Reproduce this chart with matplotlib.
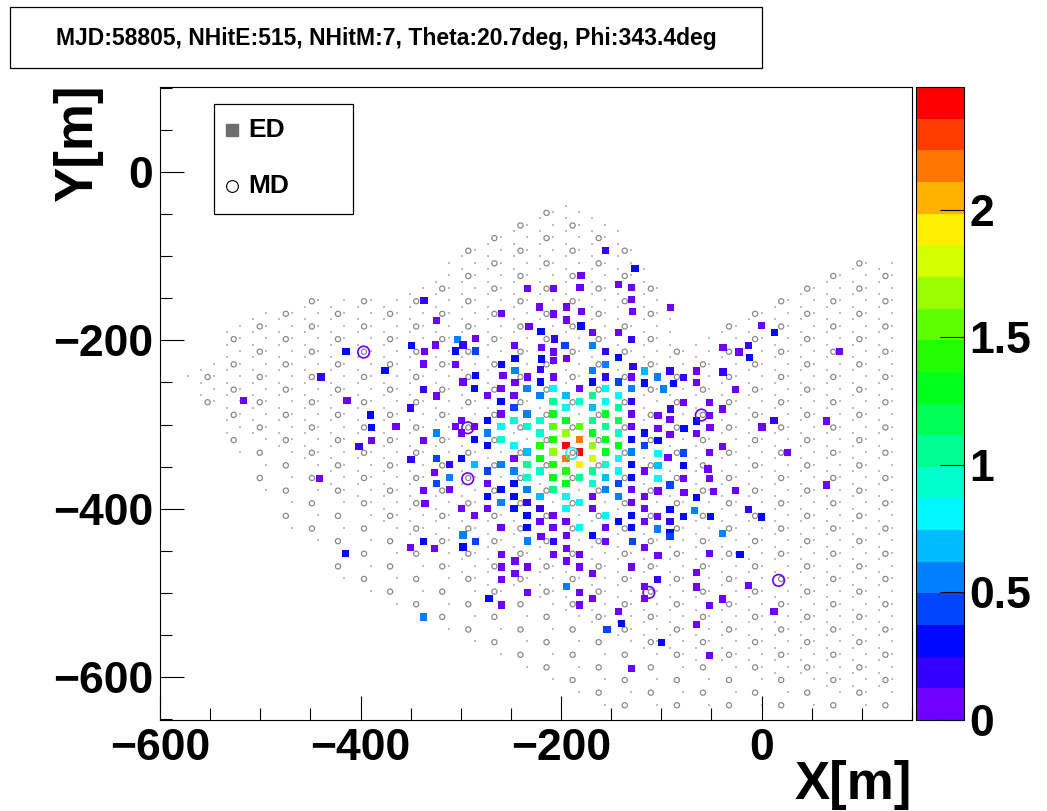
import numpy as np
import matplotlib
matplotlib.use("Agg")
import matplotlib.pyplot as plt
from matplotlib.path import Path
from matplotlib.colors import ListedColormap, BoundaryNorm, hsv_to_rgb
from matplotlib.patches import Rectangle
from matplotlib.cm import ScalarMappable
import matplotlib.ticker as mt

plt.rcParams['font.family'] = ['Liberation Sans', 'DejaVu Sans']
plt.rcParams['font.weight'] = 'bold'

# ---------------- text / ranges ----------------
title_text = "MJD:58805, NHitE:515, NHitM:7, Theta:20.7deg, Phi:343.4deg"
x_label = "X[m]"
y_label = "Y[m]"
x_range = (-600, 150)
y_range = (-651, 101)
x_major = [-600, -400, -200, 0]
y_major = [-600, -400, -200, 0]
z_max = 2.48
n_levels = 20
cbar_ticks = [0, 0.5, 1, 1.5, 2]

# ---------------- array layout ----------------
ed_pitch_x = 13.0
ed_pitch_y = 15.0
ed_y_offset = -2.6
md_pitch_x = 26.0
md_pitch_y = 30.0
md_x_offset = -6.5
md_y_offset = -213.5

outer_x = [-580, -548, -535, -505, -460, -416, -365, -340, -311, -286, -258, -231, -192,
           -160, -130, -108, -90, -80, -58, -48, -26, 20, 72, 100, 135,
           135, -155, -208, -261, -311, -363, -415, -440, -470, -495, -522, -550]
outer_y = [-245, -225, -185, -170, -155, -147, -148, -130, -103, -86, -70, -52, -25,
           -55, -78, -125, -170, -200, -200, -185, -168, -142, -112, -103, -100,
           -640, -640, -610, -580, -550, -519, -487, -447, -430, -384, -339, -277]
dense_x = [-600, -460, -400, -311, -201, -120, 200, 200, -600]
dense_y = [-285, -340, -400, -470, -530, -570, -640, 50, 50]

# ---------------- hit ED detectors (outer part) ----------------
ed_x = [-336.8, -324.4, -325.4, -349.1, -336.4, -337.1, -414.6, -375.7, -439.5,
        -155.5, -126.3, -180.2, -142.9, -129.9, -233.3, -207.4, -181.2, -129.6, -221.3,
        -194.7, -179.5, -207.4, -128.9, -259.2, -194.7, -232.0, -180.2, -220.0, -168.5,
        -142.9, -303.1, -297.8, -285.1, -206.4, -129.6, -246.3, -196.1, -168.8, -305.1,
        -285.1, -219.3, -207.4, -155.5, -219.3, -207.4, -194.7, -246.0, -142.9, -259.2,
        -155.5, -168.8, -305.1, -246.0, -220.3, -128.3, -116.4, -285.1, -257.9, -233.3,
        -207.4, -155.5, -129.6, -297.8, -246.0, -220.3, -168.8, -142.9, -116.4,
        -90.7, -0.3, 12.7, -38.6, -22.6, -13.0, -12.3, 77.5, -91.4, -78.1, -64.8, -38.6,
        -64.8, -87.7, -104.0,
        -517.1, -413.5, -337.0, -324.3, -350.2, -390.1, -388.8, -364.6, -324.3, -337.3,
        -388.8, -401.5, -349.6, -324.3, -326.0, -324.3, -440.7, -337.0, -335.7,
        -98.0, -26.2, -78.1, -52.1, -39.2, -91.0, -103.4, -52.1, -64.8, -91.4, 12.3, 64.8,
        0.3, -51.5, -77.5, -103.4, -64.8, -91.4, -103.4, -39.2, 25.6, -52.1, -78.1, -103.4,
        -93.4, -78.1, -103.4, -53.5, -103.4, -78.1, -52.1, -91.4, 64.8, -103.4, -77.5,
        -47.6, -26.2, -64.8, -91.4, -66.8, -13.0, -104.0, -78.1, -50.8, -0.3, -91.4,
        -104.0, -91.4, -38.9,
        -414.8, -337.0, -350.2, -326.0, -337.0,
        -297.8, -285.1, -297.8, -233.3, -220.0, -207.4, -194.7, -168.8, -155.5, -128.9,
        -116.4, -259.2, -246.0, -207.4, -194.7, -181.5, -259.2, -233.3, -194.7, -181.5,
        -129.6, -246.0, -168.8, -259.2, -194.7, -233.3, -181.5, -116.4, -116.4, -271.9,
        -168.8, -259.2, -181.5, -142.9, -139.6, -154.2, -129.6,
        -91.4, -103.4, -52.1, -21.6, -64.8, -104.0, -64.8, -13.0, -38.9, -52.1, 12.3,
        -64.8, -100.0, -52.1]
ed_y = [-152.9, -176.7, -205.5, -206.4, -213.5, -228.1, -213.0, -236.1, -243.6,
        -93.5, -114.4, -123.2, -133.4, -137.5, -138.2, -138.2, -137.0, -151.7, -160.4,
        -160.4, -165.5, -168.7, -166.0, -168.4, -175.8, -183.3, -183.0, -189.7, -190.9,
        -190.5, -198.8, -205.5, -197.6, -198.4, -198.8, -205.9, -206.4, -206.4, -212.7,
        -212.7, -208.7, -213.9, -213.5, -222.2, -223.7, -221.3, -221.3, -220.6, -228.5,
        -228.5, -235.6, -228.9, -235.6, -234.9, -230.9, -236.4, -242.0, -242.0, -243.6,
        -243.6, -243.6, -243.6, -249.5, -250.3, -249.5, -249.5, -249.5, -250.7,
        -161.2, -182.6, -190.9, -208.3, -213.9, -205.9, -220.2, -213.0, -236.4, -243.9,
        -236.4, -237.6, -250.3, -251.5, -243.6,
        -271.2, -271.2, -258.7, -266.1, -280.4, -288.7, -303.8, -302.1, -310.1, -318.8,
        -318.8, -326.4, -341.8, -340.6, -356.8, -370.3, -363.9, -378.2, -394.1,
        -257.8, -258.7, -273.6, -273.6, -281.6, -281.6, -289.5, -289.5, -295.8, -294.3,
        -295.0, -295.8, -303.0, -303.8, -304.5, -304.5, -310.9, -311.6, -318.8, -325.9,
        -333.0, -333.0, -333.9, -334.7, -339.4, -348.9, -348.9, -352.9, -363.9, -363.9,
        -363.9, -371.9, -371.9, -379.0, -380.6, -379.8, -378.2, -387.0, -401.2, -401.9,
        -401.2, -409.1, -409.1, -409.1, -409.9, -415.5, -424.2, -428.9, -429.7,
        -453.5, -439.2, -446.4, -447.1, -528.7,
        -431.3, -439.2, -445.5, -438.4, -432.8, -439.2, -432.1, -432.1, -439.2, -439.2,
        -446.4, -454.2, -462.2, -454.2, -447.1, -454.2, -469.3, -469.3, -462.2, -469.3,
        -469.3, -477.3, -477.3, -484.4, -492.2, -499.4, -499.4, -492.2, -506.5, -506.5,
        -506.5, -514.5, -514.5, -522.4, -536.7, -543.8, -589.7,
        -432.8, -455.9, -453.5, -454.2, -475.6, -484.4, -493.1, -491.5, -507.3, -515.3,
        -522.4, -537.4, -558.8, -574.7]
ed_q = [0.19, 0.06, 0.06, 0.31, 0.06, 0.06, 0.31, 0.31, 0.19,
        0.19, 0.31, 0.06, 0.06, 0.06, 0.06, 0.06, 0.06, 0.06, 0.06,
        0.06, 0.06, 0.06, 0.06, 0.06, 0.06, 0.06, 0.31, 0.31, 0.06,
        0.06, 0.56, 0.19, 0.06, 0.19, 0.19, 0.06, 0.43, 0.56, 0.31,
        0.43, 0.06, 0.06, 0.19, 0.31, 0.06, 0.06, 0.31, 0.31, 0.31,
        0.56, 0.56, 0.06, 0.56, 0.19, 0.19, 0.68, 0.31, 0.06, 0.06,
        0.06, 0.19, 0.06, 0.06, 0.06, 0.31, 0.31, 0.43, 0.31,
        0.06, 0.06, 0.31, 0.06, 0.06, 0.19, 0.31, 0.06, 0.19, 0.19,
        0.06, 0.19, 0.06, 0.31, 0.56,
        0.06, 0.06, 0.19, 0.06, 0.19, 0.31, 0.31, 0.06, 0.56, 0.06,
        0.06, 0.19, 0.19, 0.43, 0.06, 0.43, 0.06, 0.06, 0.06,
        0.56, 0.06, 0.06, 0.06, 0.06, 0.19, 0.06, 0.06, 0.31, 0.06,
        0.19, 0.06, 0.06, 0.06, 0.31, 0.06, 0.06, 0.06, 0.31, 0.06,
        0.06, 0.06, 0.43, 0.81, 0.06, 0.31, 0.68, 0.06, 0.81, 0.06,
        0.06, 0.43, 0.06, 0.06, 0.06, 0.06, 0.06, 0.31, 0.31, 0.56,
        0.19, 0.06, 0.31, 0.31, 0.31, 0.19, 0.56, 0.31, 0.56,
        0.31, 0.31, 0.06, 0.06, 0.56,
        0.56, 0.43, 0.31, 0.56, 0.06, 0.19, 0.06, 0.31, 0.06, 0.43,
        0.06, 0.06, 0.06, 0.06, 0.06, 0.06, 0.06, 0.06, 0.06, 0.06,
        0.06, 0.06, 0.06, 0.06, 0.56, 0.06, 0.06, 0.06, 0.06, 0.31,
        0.06, 0.06, 0.06, 0.06, 0.31, 0.43, 0.06,
        0.43, 0.06, 0.06, 0.31, 0.06, 0.19, 0.06, 0.06, 0.06, 0.06,
        0.06, 0.06, 0.31, 0.06]

# ---------------- hit ED detectors (shower core region) ----------------
core_x = [-311, -311, -311, -305,
          -299, -299, -299, -299,
          -286, -286, -286, -286, -286,
          -273, -273, -273, -273, -273, -273, -273, -273,
          -260, -260, -260, -260, -260, -260, -260, -260, -260,
          -247, -247, -247, -247, -247, -247, -247, -247, -247,
          -234, -234, -234, -234, -234, -234, -234, -234, -234, -234,
          -221, -221, -221, -221, -221, -221, -221, -221, -221,
          -208, -208, -208, -208, -208, -208, -208, -208, -208, -208, -208,
          -195, -195, -195, -195, -195, -195, -195, -195, -195, -195, -195,
          -182, -182, -182, -182, -182, -182, -182, -182, -182,
          -169, -169, -169, -169, -169, -169, -169, -169, -169, -169,
          -156, -156, -156, -156, -156, -156, -156, -156, -156, -156, -156,
          -143, -143, -143, -143, -143, -143, -143, -143, -143, -143,
          -130, -130, -130, -130, -130, -130, -130, -130, -130, -130, -130, -130,
          -117, -117, -117, -117, -117, -117]
core_y = [-347.6, -362.6, -377.6, -302.6,
          -295.1, -310.1, -340.1, -400.1,
          -257.6, -302.6, -317.6, -347.6, -407.6,
          -265.1, -295.1, -310.1, -325.1, -355.1, -370.1, -385.1, -400.1,
          -257.6, -272.6, -287.6, -302.6, -317.6, -347.6, -377.6, -392.6, -422.6,
          -265.1, -280.1, -295.1, -325.1, -340.1, -355.1, -370.1, -385.1, -400.1,
          -257.6, -287.6, -302.6, -332.6, -347.6, -362.6, -377.6, -392.6, -407.6, -422.6,
          -265.1, -295.1, -310.1, -325.1, -340.1, -355.1, -385.1, -400.1, -415.1,
          -257.6, -272.6, -287.6, -302.6, -317.6, -332.6, -347.6, -362.6, -377.6, -407.6, -422.6,
          -265.1, -280.1, -295.1, -310.1, -325.1, -340.1, -355.1, -370.1, -385.1, -400.1, -415.1,
          -257.6, -272.6, -302.6, -317.6, -332.6, -347.6, -362.6, -392.6, -422.6,
          -265.1, -280.1, -295.1, -310.1, -325.1, -340.1, -355.1, -370.1, -385.1, -400.1,
          -257.6, -272.6, -287.6, -302.6, -317.6, -332.6, -347.6, -362.6, -377.6, -407.6, -422.6,
          -265.1, -280.1, -295.1, -310.1, -325.1, -340.1, -355.1, -370.1, -385.1, -415.1,
          -257.6, -272.6, -287.6, -302.6, -317.6, -332.6, -347.6, -362.6, -377.6, -392.6, -407.6, -422.6,
          -310.1, -325.1, -355.1, -385.1, -400.1, -415.1]
core_q = [0.19, 0.56, 0.06, 0.06,
          0.06, 0.06, 0.31, 0.06,
          0.31, 0.06, 0.31, 0.68, 0.06,
          0.06, 0.31, 0.56, 0.31, 0.43, 0.06, 0.31, 0.06,
          0.06, 0.31, 0.06, 0.81, 0.93, 0.56, 0.31, 0.56, 0.06,
          0.06, 0.43, 0.93, 0.81, 0.06, 0.56, 0.31, 0.31, 0.31,
          0.56, 0.56, 0.93, 0.68, 1.05, 0.93, 0.56, 0.19, 0.31, 0.31,
          0.56, 0.93, 0.93, 1.43, 1.30, 0.93, 0.68, 0.19, 0.06,
          0.81, 1.05, 1.30, 1.55, 1.43, 1.67, 1.43, 1.30, 1.05, 0.06, 0.06,
          0.68, 0.81, 1.30, 1.67, 2.42, 2.17, 1.43, 1.30, 0.81, 0.81, 0.06,
          0.06, 0.93, 1.55, 2.17, 2.42, 1.92, 1.05, 0.81, 0.81,
          1.05, 0.68, 1.05, 1.30, 1.67, 1.80, 1.05, 0.93, 0.06, 0.06,
          0.81, 0.81, 1.30, 1.05, 1.30, 1.30, 0.93, 0.68, 0.56, 0.81, 0.06,
          0.81, 1.05, 1.18, 0.93, 1.30, 0.81, 0.81, 0.43, 0.56, 0.31,
          0.56, 0.19, 0.06, 0.06, 0.31, 0.56, 0.31, 0.31, 0.06, 0.06, 0.31, 0.31,
          0.31, 0.43, 0.06, 0.06, 0.06, 0.06]

# ---------------- hit MD detectors ----------------
md_x = [-396.9, -293.1, -293.1, -189.4, -60.1, -112.4, 17.0]
md_y = [-213.9, -303.8, -364.4, -334.2, -288.7, -499.4, -485.1]
md_q = [0.06, 0.06, 0.06, 0.81, 0.06, 0.06, 0.06]

# ---------------- palette ----------------
hues = np.linspace(266, 0, n_levels) / 360.0
pal = hsv_to_rgb(np.column_stack([hues, np.ones(n_levels), np.ones(n_levels)]))
cmap = ListedColormap(pal)
levels = np.linspace(0, z_max, n_levels + 1)
norm = BoundaryNorm(levels, n_levels)

# ---------------- figure ----------------
W, H = 1047, 811
fig = plt.figure(figsize=(W / 100, H / 100), dpi=100)

def fx(px):
    return px / W

def fy(py):
    return 1 - py / H

ax = fig.add_axes([fx(160), fy(720), fx(912) - fx(160), fy(87) - fy(720)])
cax = fig.add_axes([fx(916), fy(720), fx(964) - fx(916), fy(87) - fy(720)])

# background array geometry
outer = Path(np.column_stack([outer_x, outer_y]))
dense = Path(np.column_stack([dense_x, dense_y]))
K, J = np.meshgrid(np.arange(-50, 15), np.arange(-50, 12))
K = K.ravel(); J = J.ravel()
gx = K * ed_pitch_x
gy = ed_y_offset + J * ed_pitch_y + (ed_pitch_y / 2) * (K % 2)
pts = np.column_stack([gx, gy])
in_outer = outer.contains_points(pts)
in_dense = dense.contains_points(pts)
sparse_ok = (K % 2 == 0) & (((J + K // 2) % 2) == 0)
keep = in_outer & (in_dense | sparse_ok)
ax.scatter(gx[keep], gy[keep], s=4.0, marker='s', c='#bdbdbd', linewidths=0, zorder=1)

M, L = np.meshgrid(np.arange(-25, 8), np.arange(-25, 6))
M = M.ravel(); L = L.ravel()
mx = md_x_offset + M * md_pitch_x
my = md_y_offset + L * md_pitch_y + (md_pitch_y / 2) * ((M + 1) % 2)
mpts = np.column_stack([mx, my])
mkeep = outer.contains_points(mpts)
ax.scatter(mx[mkeep], my[mkeep], s=14, marker='o', facecolors='none',
           edgecolors='#8a8a8a', linewidths=0.9, zorder=2)

# hits
all_x = ed_x + core_x
all_y = ed_y + core_y
all_q = ed_q + core_q
ax.scatter(all_x, all_y, c=all_q, cmap=cmap, norm=norm, s=27, marker='s',
           linewidths=0, zorder=3)
ax.scatter(md_x, md_y, c='none', edgecolors=cmap(norm(md_q)), s=70, marker='o',
           linewidths=1.2, zorder=4)

ax.set_xlim(*x_range)
ax.set_ylim(*y_range)
ax.set_xticks(x_major)
ax.set_yticks(y_major)
ax.xaxis.set_minor_locator(mt.MultipleLocator(50))
ax.yaxis.set_minor_locator(mt.MultipleLocator(50))
ax.tick_params(which='major', direction='in', length=17, width=0.8, labelsize=32,
               top=False, right=False)
ax.tick_params(which='minor', direction='in', length=8.5, width=0.8,
               top=False, right=False)
ax.tick_params(axis='x', pad=6)
ax.tick_params(axis='y', pad=5)
for s in ax.spines.values():
    s.set_linewidth(0.8)
for lab in ax.get_xticklabels() + ax.get_yticklabels():
    lab.set_fontweight('bold')

# legend box
ax.add_patch(Rectangle((0.0718, 0.7994), 0.1848, 0.1736, transform=ax.transAxes,
                       facecolor='white', edgecolor='black', linewidth=0.9, zorder=10))
ax.plot([0.0957], [0.932], marker='s', color='#6e6e6e', markersize=8,
        linestyle='none', transform=ax.transAxes, zorder=11)
ax.plot([0.0957], [0.8436], marker='o', markerfacecolor='none', markeredgecolor='black',
        markersize=8.5, markeredgewidth=0.8, linestyle='none', transform=ax.transAxes, zorder=11)
ax.text(0.117, 0.932, "ED", transform=ax.transAxes, fontsize=19, fontweight='bold',
        va='center', ha='left', zorder=11)
ax.text(0.117, 0.8436, "MD", transform=ax.transAxes, fontsize=19, fontweight='bold',
        va='center', ha='left', zorder=11)

# colorbar
cb = fig.colorbar(ScalarMappable(norm=norm, cmap=cmap), cax=cax, ticks=cbar_ticks)
cb.outline.set_linewidth(0.8)
cax.yaxis.set_ticks_position('right')
cax.tick_params(direction='in', length=17, width=0.8, labelsize=32, pad=4)
cax.yaxis.set_major_formatter(mt.FuncFormatter(lambda v, p: f"{v:g}"))
cax.minorticks_off()
for lab in cax.get_yticklabels():
    lab.set_fontweight('bold')

# axis titles
fig.text(fx(912), fy(799), x_label, ha='right', va='baseline', fontsize=38, fontweight='bold')
fig.text(fx(78), fy(85), y_label, ha='center', va='top', rotation=90, fontsize=38,
         fontweight='bold')

# title box
fig.patches.append(Rectangle((fx(10), fy(68)), fx(762) - fx(10), fy(7) - fy(68),
                             transform=fig.transFigure, facecolor='white',
                             edgecolor='black', linewidth=0.9))
fig.text(fx(386), fy(38), title_text, ha='center', va='center', fontsize=16.5,
         fontweight='bold')

fig.savefig("out.png", dpi=100)
